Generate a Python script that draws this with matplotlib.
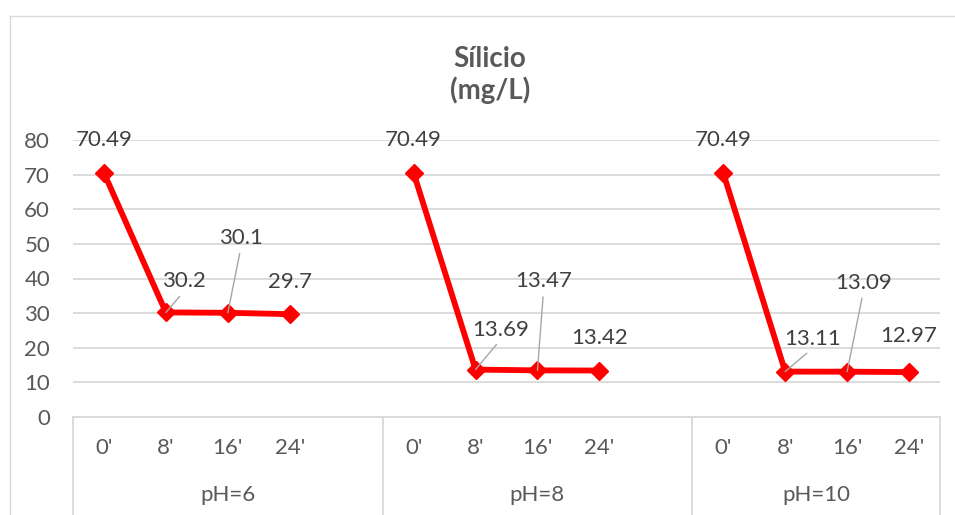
import matplotlib
matplotlib.use("Agg")
import matplotlib.pyplot as plt
from matplotlib.lines import Line2D

# ---- data ----
groups = ["pH=6", "pH=8", "pH=10"]
times = ["0'", "8'", "16'", "24'"]
ph6 = [70.49, 30.2, 30.1, 29.7]
ph8 = [70.49, 13.69, 13.47, 13.42]
ph10 = [70.49, 13.11, 13.09, 12.97]
series = [ph6, ph8, ph10]
title = "Sílicio\n(mg/L)"
yticks = [0, 10, 20, 30, 40, 50, 60, 70, 80]

# label offsets in pixels (dx, dy up) and whether a leader line is drawn
label_offsets = [
    [(0, 33, False), (18, 31, True), (13, 75, True), (0, 32, False)],
    [(0, 33, False), (25, 40, True), (6, 89, True), (0, 33, False)],
    [(0, 33, False), (27, 33, True), (16, 89, True), (0, 36, False)],
]

W, H = 955, 515
DPI = 100
plt.rcParams['font.family'] = ['Lato', 'DejaVu Sans']
fig = plt.figure(figsize=(W / DPI, H / DPI), dpi=DPI)

# chart border (left and top visible)
fig.add_artist(Line2D([10 / W, 10 / W], [0, 1 - 16 / H], transform=fig.transFigure,
                      color="#D9D9D9", lw=1.0))
fig.add_artist(Line2D([10 / W, 1], [1 - 16 / H, 1 - 16 / H], transform=fig.transFigure,
                      color="#D9D9D9", lw=1.0))

left, right, top, bottom = 73, 940, 140, 417
ax = fig.add_axes([left / W, 1 - bottom / H, (right - left) / W, (bottom - top) / H])

FS = 16
ncat = len(groups) * (len(times) + 1) - 1
ax.set_xlim(-0.5, ncat - 0.5)
ax.set_ylim(0, 80)
ax.set_yticks(yticks)
ax.set_yticklabels([str(v) for v in yticks], fontsize=FS, color="#595959")
ax.tick_params(axis='y', length=0, pad=16.5)
ax.set_xticks([])
for s in ["left", "right", "top"]:
    ax.spines[s].set_visible(False)
ax.spines["bottom"].set_color("#D9D9D9")
ax.spines["bottom"].set_linewidth(1.3)
ax.yaxis.grid(True, color="#D9D9D9", lw=1.3)
ax.set_axisbelow(True)

px2pt = 72 / DPI
axh = bottom - top
xt = ax.get_xaxis_transform()

for g, (gname, vals) in enumerate(zip(groups, series)):
    xs = [g * (len(times) + 1) + i for i in range(len(times))]
    ax.plot(xs, vals, color="#FF0000", lw=4.2, marker="D", markersize=9.5,
            markeredgewidth=1.0, markeredgecolor="#FF0000", solid_joinstyle="miter",
            zorder=3, clip_on=False)
    for x, v, (dx, dy, lead) in zip(xs, vals, label_offsets[g]):
        kw = {}
        if lead:
            kw["arrowprops"] = dict(arrowstyle="-", color="#A6A6A6", lw=1.0,
                                    shrinkA=2, shrinkB=0, relpos=(0.5, 0.0))
        ax.annotate(f"{v:g}", xy=(x, v), xytext=(dx * px2pt, dy * px2pt),
                    textcoords="offset points", ha="center", va="center",
                    fontsize=FS, color="#404040", zorder=4, **kw)
    for x, t in zip(xs, times):
        ax.text(x, -31 / axh, t, transform=xt, ha="center", va="center",
                fontsize=FS, color="#595959")
    gx = (xs[0] - 0.5 + (xs[-1] + 1.5 if g < len(groups) - 1 else xs[-1] + 0.5)) / 2
    ax.text(gx, -78 / axh, gname, transform=xt, ha="center", va="center",
            fontsize=FS, color="#595959")

# group separators
seps = [-0.5] + [g * (len(times) + 1) - 0.5 for g in range(1, len(groups))] + [ncat - 0.5]
for sx in seps:
    ax.plot([sx, sx], [0, -(H - bottom + 5) / axh], transform=xt, color="#D9D9D9",
            lw=1.3, clip_on=False)

fig.text(490 / W, 1 - 75 / H, title, ha="center", va="center", fontsize=20,
         fontweight="bold", color="#595959", linespacing=1.2)

fig.savefig("out.png", dpi=DPI)
